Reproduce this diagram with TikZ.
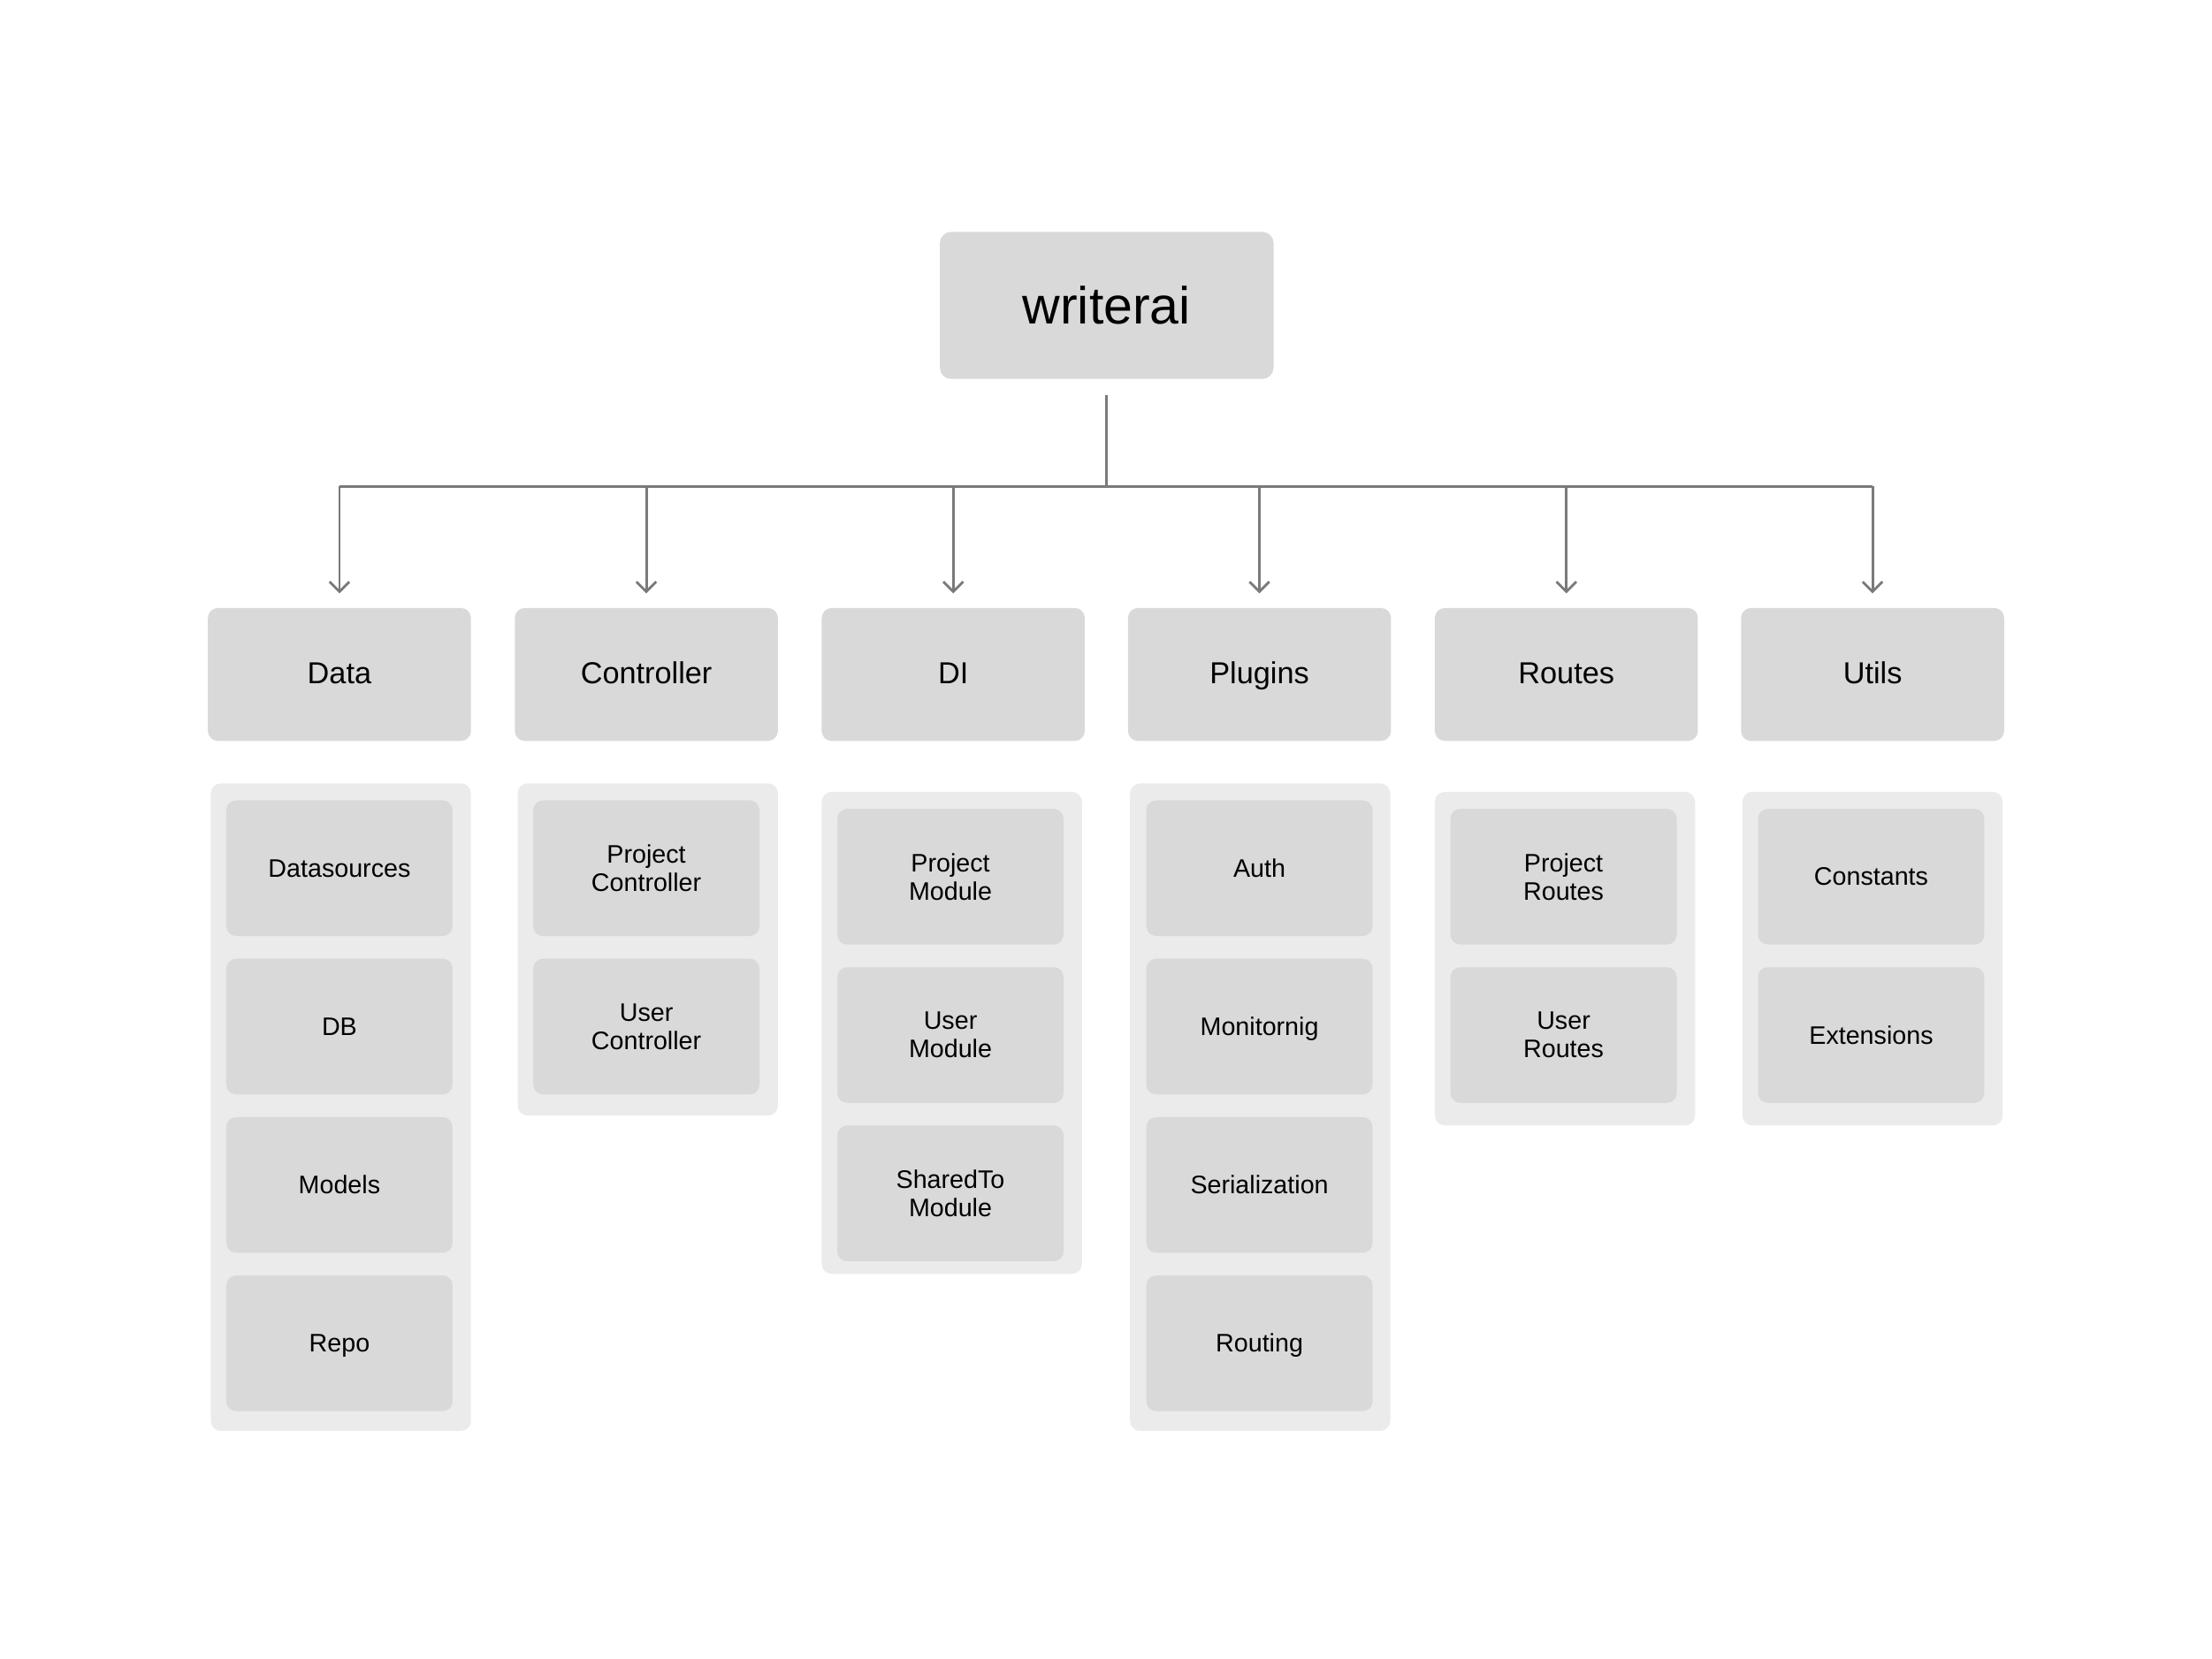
\documentclass[tikz,border=0pt]{standalone}
\usepackage{fontspec}
\setmainfont{Liberation Sans}
\usetikzlibrary{arrows.meta}

\definecolor{boxgray}{HTML}{D9D9D9}
\definecolor{groupgray}{HTML}{EBEBEB}
\definecolor{linegray}{HTML}{7A7A7A}

\begin{document}
\begin{tikzpicture}[x=0.02cm,y=-0.02cm,
  rootbox/.style={fill=boxgray,rounded corners=0.16cm,minimum width=4.72cm,minimum height=2.08cm,font=\fontsize{21}{24}\selectfont},
  pkgbox/.style={fill=boxgray,rounded corners=0.14cm,minimum width=3.72cm,minimum height=1.88cm,text height=0.92em,text depth=0.2em,font=\fontsize{12.2}{14}\selectfont},
  group/.style={fill=groupgray,rounded corners=0.14cm,minimum width=3.68cm},
  item/.style={fill=boxgray,rounded corners=0.14cm,minimum width=3.2cm,minimum height=1.92cm,align=center,font=\fontsize{10.2}{11.4}\selectfont},
  oneline/.style={text height=0.92em,text depth=0.2em},
  link/.style={linegray,line width=1pt},
  arrow/.style={link,-{Straight Barb[length=1.4mm,width=2.8mm]}}]
\useasboundingbox (0,0) rectangle (1564,1173);

\node[rootbox] (root) at (782.5,216) {writerai};

 \node[pkgbox] (data) at (240,477) {Data};
 \node[pkgbox] (controller) at (457,477) {Controller};
 \node[pkgbox] (di) at (674,477) {DI};
 \node[pkgbox] (plugins) at (890.5,477) {Plugins};
 \node[pkgbox] (routes) at (1107.5,477) {Routes};
 \node[pkgbox] (utils) at (1324,477) {Utils};

 \coordinate (bus) at (782.5,344);
 \draw[link] ([yshift=-0.22cm]root.south) -- (bus);
 \draw[link] (data |- bus) -- (utils |- bus);
 \draw[arrow] (data |- bus) -- ([yshift=0.2cm]data.north);
 \draw[arrow] (controller |- bus) -- ([yshift=0.2cm]controller.north);
 \draw[arrow] (di |- bus) -- ([yshift=0.2cm]di.north);
 \draw[arrow] (plugins |- bus) -- ([yshift=0.2cm]plugins.north);
 \draw[arrow] (routes |- bus) -- ([yshift=0.2cm]routes.north);
 \draw[arrow] (utils |- bus) -- ([yshift=0.2cm]utils.north);

 % Data
 \node[group,minimum height=9.16cm] (gdata) at (241,783) {};
 \node[item,oneline] (datasources) at (240,614) {Datasources};
 \node[item,oneline] (db) at (240,726) {DB};
 \node[item,oneline] (models) at (240,838) {Models};
 \node[item,oneline] (repo) at (240,950) {Repo};

 % Controller
 \node[group,minimum height=4.7cm] (gcontroller) at (458,671.5) {};
 \node[item] (projectcontroller) at (457,614) {Project\\Controller};
 \node[item] (usercontroller) at (457,726) {User\\Controller};

 % DI
 \node[group,minimum height=6.82cm] (gdi) at (673,730.5) {};
 \node[item] (projectmodule) at (672,620) {Project\\Module};
 \node[item] (usermodule) at (672,732) {User\\Module};
 \node[item] (sharedmodule) at (672,844) {SharedTo\\Module};

 % Plugins
 \node[group,minimum height=9.16cm] (gplugins) at (891,783) {};
 \node[item,oneline] (auth) at (890.5,614) {Auth};
 \node[item,oneline] (monitoring) at (890.5,726) {Monitornig};
 \node[item,oneline] (serialization) at (890.5,838) {Serialization};
 \node[item,oneline] (routing) at (890.5,950) {Routing};

 % Routes
 \node[group,minimum height=4.72cm] (groutes) at (1106.5,678) {};
 \node[item] (projectroutes) at (1105.5,620) {Project\\Routes};
 \node[item] (userroutes) at (1105.5,732) {User\\Routes};

 % Utils
 \node[group,minimum height=4.72cm] (gutils) at (1324,678) {};
 \node[item,oneline] (constants) at (1323,620) {Constants};
 \node[item,oneline] (extensions) at (1323,732) {Extensions};

\end{tikzpicture}
\end{document}
